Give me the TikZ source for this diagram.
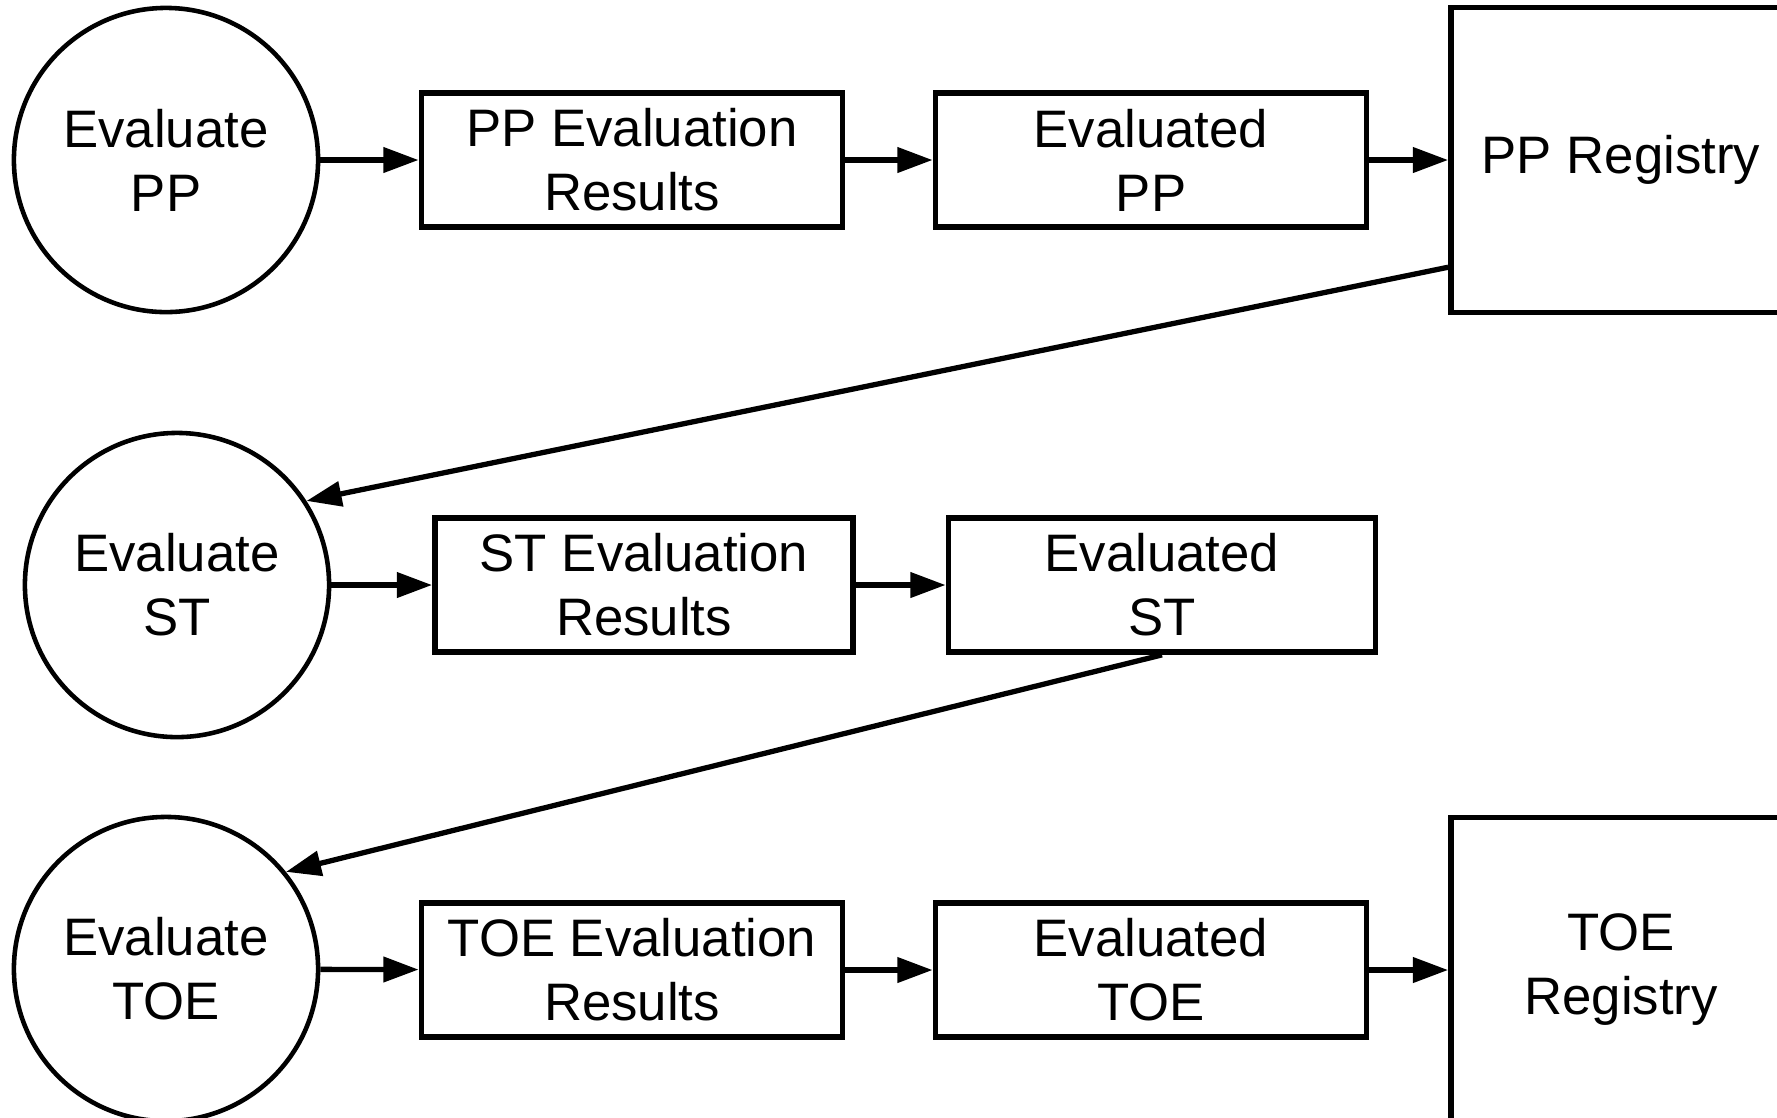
\documentclass[tikz,border=0pt]{standalone}
\usepackage{fontspec}
\setmainfont{Liberation Sans}
\usetikzlibrary{arrows.meta,calc}
\begin{document}
\begin{tikzpicture}[x=0.01cm,y=-0.01cm,
  every node/.style={font=\fontsize{15}{18.2}\selectfont, align=center, inner sep=0pt},
  proc/.style={circle, draw, line width=1.3pt, minimum size=3.04cm},
  store/.style={rectangle, draw, line width=1.6pt, minimum height=1.34cm},
  reg/.style={rectangle, draw, line width=1.6pt, minimum width=3.4cm, minimum height=3.05cm},
  flow/.style={line width=1.5pt, -{Triangle[length=10pt,width=7pt]}}
]
\useasboundingbox (0,0) rectangle (1777,1117);
% row 1
\node[proc] (epp) at (166,160) {Evaluate\\PP};
\node[store, minimum width=4.21cm] (ppr) at (632,160) {PP Evaluation\\Results};
\node[store, minimum width=4.31cm] (evpp) at (1151,160) {Evaluated\\PP};
\node[reg] (regpp) at (1621,160) {PP Registry};
% row 2
\node[proc] (est) at (177,585) {Evaluate\\ST};
\node[store, minimum width=4.18cm] (str) at (644,585) {ST Evaluation\\Results};
\node[store, minimum width=4.27cm] (evst) at (1162,585) {Evaluated\\ST};
% row 3
\node[proc] (etoe) at (166,969) {Evaluate\\TOE};
\node[store, minimum width=4.21cm] (toer) at (632,970) {TOE Evaluation\\Results};
\node[store, minimum width=4.31cm] (evtoe) at (1151,970) {Evaluated\\TOE};
\node[reg] (regtoe) at (1621,970) {TOE\\Registry};
% connectors
\draw[flow] (epp) -- (ppr);
\draw[flow] (ppr) -- (evpp);
\draw[flow] (evpp) -- (regpp);
\coordinate (s1) at ($(regpp.south west)!0.155!(regpp.north west)$);
\draw[flow] (s1) -- (est.33);
\draw[flow] (est) -- (str);
\draw[flow] (str) -- (evst);
\draw[flow] (evst.south) -- (etoe.39);
\draw[flow] (etoe) -- (toer);
\draw[flow] (toer) -- (evtoe);
\draw[flow] (evtoe) -- (regtoe);
\end{tikzpicture}
\end{document}
